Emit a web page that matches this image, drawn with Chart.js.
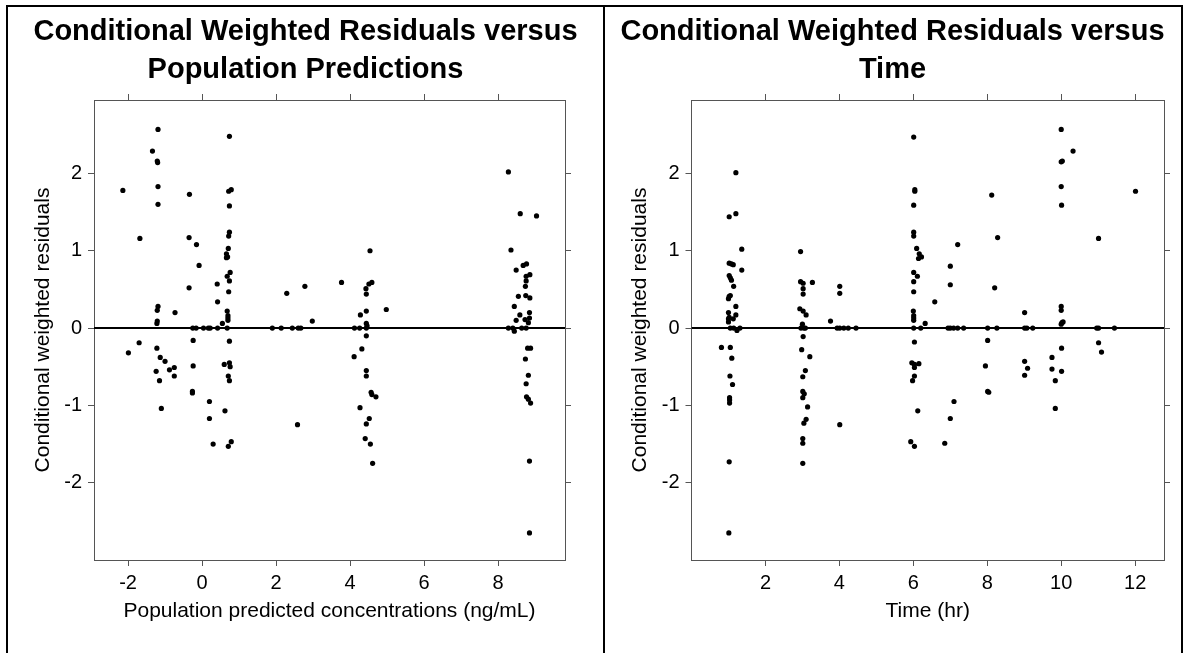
<!DOCTYPE html>
<html>
<head>
<meta charset="utf-8">
<script src="https://cdn.jsdelivr.net/npm/chart.js@4/dist/chart.umd.min.js"></script>
<style>
  html, body { margin: 0; padding: 0; background: #fff; }
  #page { position: relative; width: 1187px; height: 653px; overflow: hidden; }
  .frame { position: absolute; top: 5px; height: 700px; border: 2px solid #000; box-sizing: border-box; }
  canvas { position: absolute; top: 0; }
</style>
</head>
<body>
<div id="page">
  <div class="frame" style="left:6px;width:599px;"></div>
  <div class="frame" style="left:603px;width:580px;"></div>
  <canvas id="cwresPredChart" width="597" height="653" style="left:7px"></canvas>
  <canvas id="cwresTimeChart" width="577" height="653" style="left:604px"></canvas>
</div>
<script>
// CWRES vs population predictions
const predConc = [
  -1.19, 0.74, -1.34, -1.21, -1.20, -2.14, -1.19, -0.34, 0.72, 0.79, -1.19, 0.74,
  -1.68, -0.35, -0.15, 0.74, 0.72, 0.71, 0.66, 0.66, 0.69, -0.08, 0.76, 0.68,
  0.74, 0.41, -0.35, 0.72, 0.42, -1.19, -1.21, -0.73, 0.68, 0.70, 0.70, 0.70,
  0.55, -1.21, -1.22, -0.25, -0.16, 0.04, 0.17, 0.22, 0.42, 0.68,
  1.90, 2.14, 2.44, 2.60, 2.67, 2.29, 2.78, 2.98,
  -1.70, -1.22, -0.24, 0.74, -1.99, -1.13, -1.00, -0.75, -0.88, -1.24, -0.24, -0.75,
  -1.15, 0.60, 0.74, 0.76, 0.71, 0.74, -0.26, -0.26, -1.10, 0.20, 0.62, 0.20,
  2.58, 0.30, 0.79, 0.71,
  3.77, 4.54, 4.51, 4.59, 4.43, 4.44, 4.98, 4.44, 4.28, 4.44, 4.46, 4.12,
  4.26, 4.44, 4.44, 4.32, 4.11, 4.44, 4.44, 4.57, 4.59, 4.70, 4.27, 4.52,
  4.44, 4.41, 4.55, 4.61,
  8.28, 8.60, 9.04, 8.35, 8.68, 8.77, 8.49, 8.86, 8.76, 8.76, 8.74, 8.55,
  8.75, 8.86, 8.44, 8.85, 8.59, 8.85, 8.49, 8.73, 8.82, 8.28, 8.40, 8.64,
  8.76, 8.44, 8.80, 8.88, 8.74, 8.82, 8.76, 8.77, 8.82, 8.88, 8.85, 8.85
];
const cwresPred = [
  2.57, 2.48, 2.29, 2.16, 2.14, 1.78, 1.83, 1.73, 1.77, 1.79, 1.60, 1.58,
  1.16, 1.17, 1.08, 1.24, 1.19, 1.03, 0.96, 0.91, 0.92, 0.81, 0.72, 0.67,
  0.61, 0.57, 0.52, 0.47, 0.34, 0.28, 0.23, 0.20, 0.22, 0.16, 0.13, 0.10,
  0.06, 0.09, 0.06, 0, 0, 0, 0, 0, 0, 0,
  0, 0, 0, 0, 0, 0.45, 0.54, 0.09,
  -0.19, -0.26, -0.16, -0.17, -0.32, -0.38, -0.43, -0.51, -0.54, -0.56, -0.49, -0.62,
  -0.68, -0.47, -0.45, -0.50, -0.62, -0.68, -0.82, -0.84, -1.04, -0.95, -1.07, -1.17,
  -1.25, -1.50, -1.47, -1.53,
  0.59, 1.00, 0.57, 0.59, 0.51, 0.44, 0.24, 0.22, 0.17, 0.06, 0.03, 0,
  0, 0, -0.10, -0.27, -0.37, -0.55, -0.62, -0.83, -0.86, -0.89, -1.03, -1.17,
  -1.24, -1.43, -1.50, -1.75,
  2.02, 1.48, 1.45, 1.01, 0.81, 0.83, 0.75, 0.69, 0.67, 0.61, 0.54, 0.41,
  0.42, 0.39, 0.28, 0.20, 0.17, 0.13, 0.10, 0.11, 0.07, 0, 0, 0,
  0, -0.04, -0.26, -0.26, -0.40, -0.61, -0.72, -0.89, -0.92, -0.97, -1.72, -2.65
];

// CWRES vs time after dose
const timeHr = [
  1.20, 1.02, 1.20, 1.36, 1.02, 1.08, 1.13, 1.36, 1.02, 1.05, 1.08, 1.14,
  1.02, 1.05, 1.00, 1.20, 1.00, 1.20, 1.02, 1.00, 1.13, 1.00, 1.05, 1.14,
  1.23, 1.31, 0.81, 1.05, 1.09, 1.04, 1.11, 1.03, 1.03, 1.03, 1.02, 1.01,
  2.95, 2.95, 3.02, 3.27, 3.02, 3.02, 2.93, 3.02, 3.10, 3.00, 3.04, 2.96,
  3.08, 3.02, 2.98, 3.20, 3.08, 3.01, 3.01, 3.05, 3.01, 3.14, 3.10, 3.04,
  3.01, 3.01, 3.01,
  4.01, 4.01, 3.76, 3.94, 4.01, 4.12, 4.24, 4.45, 4.01,
  6.01, 6.04, 6.04, 6.01, 6.01, 6.01, 6.09, 6.16, 6.14, 6.22, 6.01, 6.11,
  6.01, 6.01, 6.00, 6.01, 6.01, 6.01, 6.01, 6.20, 6.32, 6.03, 5.96, 6.03,
  6.15, 6.03, 6.03, 5.98, 6.12, 5.93, 6.03, 6.58,
  7.00, 7.00, 7.20, 6.94, 7.00, 7.09, 7.20, 7.36, 6.85, 7.00, 7.10,
  8.01, 8.26, 8.01, 8.12, 8.28, 8.20, 7.95, 8.01, 8.04,
  9.01, 9.01, 9.07, 9.23, 9.01, 9.09, 9.01,
  10.00, 10.32, 10.00, 10.03, 10.00, 10.01, 10.00, 10.00, 10.02, 10.00, 10.05, 10.01,
  9.75, 9.75, 10.01, 9.84, 9.84,
  11.01, 11.01, 10.96, 11.44, 11.01, 11.09,
  12.01
];
const cwresTime = [
  2.01, 1.44, 1.48, 1.02, 0.84, 0.83, 0.82, 0.75, 0.68, 0.65, 0.62, 0.54,
  0.41, 0.42, 0.38, 0.28, 0.20, 0.17, 0.14, 0.12, 0.12, 0.08, 0, 0,
  -0.03, 0, -0.25, -0.25, -0.39, -0.62, -0.73, -0.90, -0.93, -0.97, -1.73, -2.65,
  0.99, 0.60, 0.58, 0.59, 0.51, 0.44, 0.25, 0.22, 0.17, 0.05, 0, 0,
  0, -0.11, -0.28, -0.37, -0.55, -0.63, -0.82, -0.85, -0.90, -1.02, -1.18, -1.23,
  -1.43, -1.49, -1.75,
  0.54, 0.45, 0.09, 0, 0, 0, 0, 0, -1.25,
  2.47, 1.77, 1.79, 1.59, 1.24, 1.19, 1.03, 0.96, 0.90, 0.92, 0.72, 0.67,
  0.60, 0.47, 0.22, 0.16, 0.13, 0.10, 0, 0, 0.06, -0.18, -0.45, -0.47,
  -0.46, -0.51, -0.62, -0.68, -1.07, -1.47, -1.53, 0.34,
  0.80, 0.56, 1.08, 0, 0, 0, 0, 0, -1.49, -1.17, -0.95,
  0, 0, -0.16, 1.72, 1.17, 0.52, -0.49, -0.82, -0.83,
  0.20, 0, 0, 0, -0.43, -0.52, -0.61,
  2.57, 2.29, 2.15, 2.16, 1.83, 1.59, 0.28, 0.23, 0.07, 0.05, 0.08, -0.26,
  -0.38, -0.53, -0.56, -0.68, -1.04,
  1.16, 0, 0, 0, -0.19, -0.31,
  1.77
];

const predTicks = [-2, 0, 2, 4, 6, 8];
const timeTicks = [2, 4, 6, 8, 10, 12];
const cwresTicks = [-2, -1, 0, 1, 2];

const FONT = "'Liberation Sans', Arial, Helvetica, sans-serif";
const AXIS_GREY = '#555';

function useTicks(values) {
  return scale => { scale.ticks = values.map(v => ({ value: v })); };
}

function buildPanel(id, xs, ys, xRange, xTicks, titleLines, xLabel, leftW, rightW) {
  const pts = xs.map((x, i) => ({ x: x, y: ys[i] }));
  const tickFont = { family: FONT, size: 20 };
  const labelFont = { family: FONT, size: 21 };
  const grid = { drawOnChartArea: false, drawTicks: true, tickLength: 6, color: AXIS_GREY, lineWidth: 1 };
  const border = { display: true, color: AXIS_GREY, width: 1 };
  const yMin = -3.0, yMax = 2.95;

  new Chart(document.getElementById(id), {
    type: 'scatter',
    data: {
      datasets: [
        {
          type: 'line',
          data: [{ x: xRange[0], y: 0 }, { x: xRange[1], y: 0 }],
          borderColor: '#000', borderWidth: 2, pointRadius: 0, order: 2
        },
        {
          data: pts,
          backgroundColor: '#000', borderWidth: 0, pointRadius: 2.6, order: 1
        }
      ]
    },
    options: {
      responsive: false,
      animation: false,
      devicePixelRatio: 1,
      layout: { padding: 0 },
      plugins: {
        legend: { display: false },
        tooltip: { enabled: false },
        title: {
          display: true,
          text: titleLines,
          color: '#000',
          font: { family: FONT, size: 29, weight: 'bold', lineHeight: 1.3 },
          padding: { top: 13, bottom: 3.6 }
        }
      },
      scales: {
        x: {
          type: 'linear', position: 'bottom', min: xRange[0], max: xRange[1],
          afterBuildTicks: useTicks(xTicks),
          afterFit: s => { s.height = 93; },
          ticks: { font: tickFont, color: '#000', padding: 5, maxRotation: 0, autoSkip: false },
          grid: grid, border: border,
          title: { display: true, text: xLabel, color: '#000', font: labelFont, padding: { top: 0, bottom: 29 } }
        },
        x2: {
          type: 'linear', position: 'top', min: xRange[0], max: xRange[1],
          afterBuildTicks: useTicks(xTicks),
          afterFit: s => { s.height = 8; },
          ticks: { display: false },
          grid: grid, border: border
        },
        y: {
          type: 'linear', position: 'left', min: yMin, max: yMax,
          afterBuildTicks: useTicks(cwresTicks),
          afterFit: s => { s.width = leftW; },
          ticks: { font: tickFont, color: '#000', padding: 6 },
          grid: grid, border: border,
          title: { display: true, text: 'Conditional weighted residuals', color: '#000', font: labelFont, padding: { top: 24, bottom: 0 } }
        },
        y2: {
          type: 'linear', position: 'right', min: yMin, max: yMax,
          afterBuildTicks: useTicks(cwresTicks),
          afterFit: s => { s.width = rightW; },
          ticks: { display: false },
          grid: grid, border: border
        }
      }
    }
  });
}

buildPanel('cwresPredChart', predConc, cwresPred, [-2.92, 9.81], predTicks,
  ['Conditional Weighted Residuals versus', 'Population Predictions'],
  'Population predicted concentrations (ng/mL)', 87, 39);

buildPanel('cwresTimeChart', timeHr, cwresTime, [0, 12.78], timeTicks,
  ['Conditional Weighted Residuals versus', 'Time'],
  'Time (hr)', 87.5, 17);
</script>
</body>
</html>
